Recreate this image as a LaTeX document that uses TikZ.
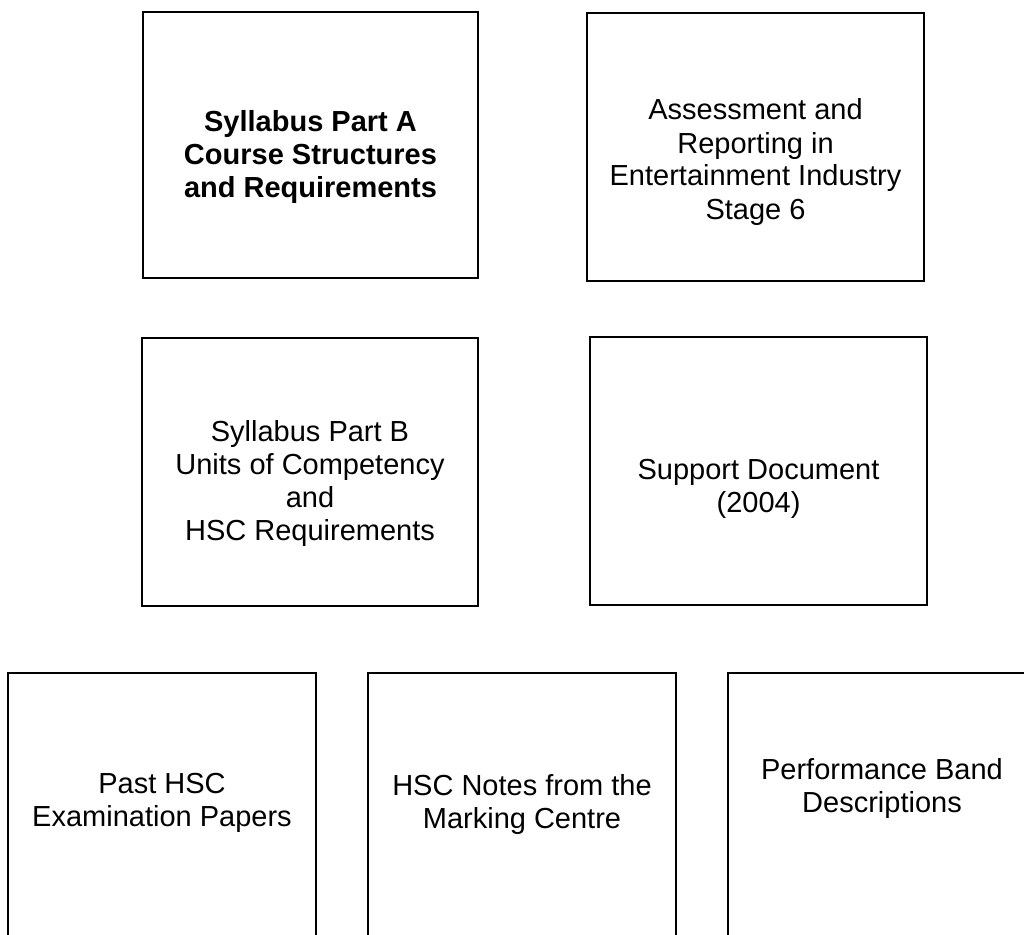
\documentclass[tikz,border=0pt]{standalone}
\usepackage{fontspec}
\setmainfont{Liberation Sans}
\usetikzlibrary{positioning}

\begin{document}
\begin{tikzpicture}[x=1pt, y=-1pt,
    docbox/.style={draw, line width=1.6pt, inner sep=0pt, minimum width=337pt, minimum height=268pt},
    lowbox/.style={docbox, minimum width=308pt, minimum height=287pt},
    doctext/.style={align=center, inner sep=0pt, font=\fontsize{29}{33}\selectfont}]
    \useasboundingbox (0,0) rectangle (1024,934);

    \node[docbox, minimum width=335pt, minimum height=266pt] (sylA) at (310.5,145) {};
    \node[docbox] (assess) at (755.5,147) {};
    \node[docbox, minimum width=336pt] (sylB) at (310,472) {};
    \node[docbox] (support) at (758.5,471) {};
    \node[lowbox] (pastexam) at (162,816.5) {};
    \node[lowbox] (hscnotes) at (522,816.5) {};
    \node[lowbox] (bands) at (882,816.5) {};

    \node[doctext, font=\fontsize{29}{33}\selectfont\bfseries] (sylAtext) at ([yshift=-12pt]sylA.center) {Syllabus Part A\\Course Structures\\and Requirements};
    \node[doctext] (assesstext) at ([yshift=-15pt]assess.center) {Assessment and\\Reporting in\\Entertainment Industry\\Stage 6};
    \node[doctext] (sylBtext) at ([yshift=-11pt]sylB.center) {Syllabus Part B\\Units of Competency\\and\\HSC Requirements};
    \node[doctext] (supporttext) at ([yshift=-18pt]support.center) {Support Document\\(2004)};
    \node[doctext] (pastexamtext) at (162,803) {Past HSC\\Examination Papers};
    \node[doctext] (hscnotestext) at (522,804) {HSC Notes from the\\Marking Centre};
    \node[doctext] (bandstext) at (882,788) {Performance Band\\Descriptions};
\end{tikzpicture}
\end{document}
